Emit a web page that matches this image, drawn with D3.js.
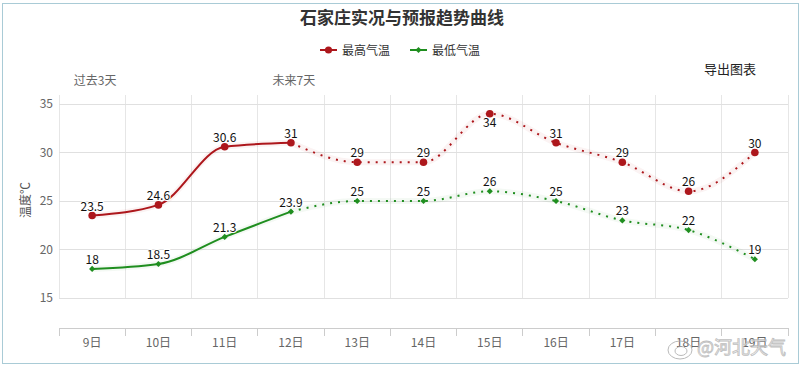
<!DOCTYPE html>
<html><head><meta charset="utf-8">
<script src="https://cdn.jsdelivr.net/npm/d3@7"></script>
<style>
body{margin:0;background:#fff;}
svg{display:block;font-family:"Noto Sans CJK SC","Noto Sans",sans-serif;}
</style></head>
<body><svg id="c" width="803" height="368"></svg>
<script>
const categories = ["9日","10日","11日","12日","13日","14日","15日","16日","17日","18日","19日"];
const highTemps = [23.5,24.6,30.6,31,29,29,34,31,29,26,30];
const lowTemps  = [18,18.5,21.3,23.9,25,25,26,25,23,22,19];
const observedCount = 4; // 9日..12日 solid (actual), rest dotted (forecast)
const yTicks = [15,20,25,30,35];
const periodLabels = [{cat:"9日",text:"过去3天"},{cat:"12日",text:"未来7天"}];
const seriesNames = ["最高气温","最低气温"];
const titleText = "石家庄实况与预报趋势曲线";

(function(){
const svg = d3.select("#c");
const pLeft = 59, pRight = 788, pTop = 104, pBottom = 298, axisY = 328;
const red = "#ad171c", green = "#1f8e1f";

// frame
svg.append("rect").attr("x",2.5).attr("y",3.5).attr("width",796).attr("height",360)
  .attr("fill","#fff").attr("stroke","#a9cbd6").attr("stroke-width",1);

const x = d3.scaleBand().domain(categories).range([pLeft,pRight]).padding(0);
const y = d3.scaleLinear().domain([15,35]).range([pBottom,pTop]);
const cx = d => x(d)+x.bandwidth()/2;
const bounds = categories.map(c=>x(c)).concat([pRight]);

// vertical grid
svg.append("g").selectAll("line").data(bounds).join("line")
  .attr("x1",d=>d).attr("x2",d=>d).attr("y1",95).attr("y2",pBottom)
  .attr("stroke","#e6e6e6").attr("stroke-width",1).attr("shape-rendering","crispEdges");
// horizontal grid
svg.append("g").selectAll("line").data(yTicks).join("line")
  .attr("x1",pLeft).attr("x2",pRight).attr("y1",d=>y(d)).attr("y2",d=>y(d))
  .attr("stroke","#e0e0e0").attr("stroke-width",1).attr("shape-rendering","crispEdges");
// y labels
svg.append("g").selectAll("text").data(yTicks).join("text")
  .attr("x",53).attr("y",d=>y(d)+4).attr("text-anchor","end")
  .attr("font-size",12).attr("fill","#666").text(d=>d);
// y title
svg.append("text").attr("transform","translate(30,200) rotate(-90)")
  .attr("text-anchor","middle").attr("font-size",12).attr("fill","#555").text("温度℃");

// bottom axis
svg.append("line").attr("x1",pLeft).attr("x2",pRight).attr("y1",axisY).attr("y2",axisY)
  .attr("stroke","#ccc").attr("shape-rendering","crispEdges");
svg.append("g").selectAll("line").data(bounds).join("line")
  .attr("x1",d=>d).attr("x2",d=>d).attr("y1",axisY).attr("y2",axisY+8)
  .attr("stroke","#ccc").attr("shape-rendering","crispEdges");
const xa = svg.append("g").attr("transform",`translate(0,${axisY})`)
  .call(d3.axisBottom(x).tickSize(0).tickPadding(10));
xa.select(".domain").remove();
xa.selectAll("text").attr("font-size",12).attr("fill","#666")
  .attr("font-family","Noto Sans CJK SC, sans-serif");

// top period labels
svg.append("g").selectAll("text").data(periodLabels).join("text")
  .attr("x",d=>cx(d.cat)+3).attr("y",85).attr("text-anchor","middle")
  .attr("font-size",12).attr("fill","#666").text(d=>d.text);

// title
svg.append("text").attr("x",402).attr("y",24).attr("text-anchor","middle")
  .attr("font-size",17).attr("font-weight","bold").attr("fill","#333").text(titleText);
// export
svg.append("text").attr("x",730).attr("y",74).attr("text-anchor","middle")
  .attr("font-size",13).attr("fill","#222").text("导出图表");

// legend
const legend = [{name:seriesNames[0],color:red,x:320,sym:d3.symbolCircle,size:40},
                {name:seriesNames[1],color:green,x:410,sym:d3.symbolDiamond2,size:24}];
legend.forEach(l=>{
  svg.append("line").attr("x1",l.x).attr("x2",l.x+17).attr("y1",50).attr("y2",50)
    .attr("stroke",l.color).attr("stroke-width",2);
  svg.append("path").attr("d",d3.symbol(l.sym,l.size)()).attr("transform",`translate(${l.x+8.5},50)`)
    .attr("fill",l.color);
  svg.append("text").attr("x",l.x+22).attr("y",54.5).attr("font-size",12).attr("fill","#333").text(l.name);
});

const line = d3.line().x(d=>cx(d.c)).y(d=>y(d.v)).curve(d3.curveMonotoneX);
function drawSeries(vals,color,sym,size){
  const pts = vals.map((v,i)=>({c:categories[i],v}));
  const solid = pts.slice(0,observedCount), dotted = pts.slice(observedCount-1);
  const g = svg.append("g");
  [solid,dotted].forEach(p=>g.append("path").attr("d",line(p)).attr("fill","none")
    .attr("stroke",color).attr("stroke-opacity",0.05).attr("stroke-width",6));
  g.append("path").attr("d",line(solid)).attr("fill","none").attr("stroke",color).attr("stroke-width",2);
  g.append("path").attr("d",line(dotted)).attr("fill","none").attr("stroke",color).attr("stroke-width",2)
    .attr("stroke-dasharray","2,6");
  g.selectAll(".m").data(pts).join("path").attr("d",d3.symbol(sym,size)())
    .attr("transform",d=>`translate(${cx(d.c)},${y(d.v)})`).attr("fill",color);
  g.selectAll(".l").data(pts).join("text")
    .attr("x",d=>cx(d.c)).attr("y",d=>{const py=y(d.v); return (py-16<pTop)? py+13 : py-5;})
    .attr("text-anchor","middle").attr("font-size",12).attr("fill","#111")
    .attr("stroke","#fff").attr("stroke-width",2).attr("paint-order","stroke")
    .text(d=>d.v);
}
drawSeries(highTemps,red,d3.symbolCircle,45);
drawSeries(lowTemps,green,d3.symbolDiamond2,24);

// watermark
const wm = svg.append("g").attr("opacity",0.8);
wm.append("ellipse").attr("cx",680).attr("cy",350).attr("rx",12).attr("ry",9).attr("fill","none").attr("stroke","#aaa");
wm.append("ellipse").attr("cx",681).attr("cy",351).attr("rx",6).attr("ry",4.5).attr("fill","none").attr("stroke","#aaa");
wm.append("text").attr("x",697).attr("y",354).attr("font-size",18).attr("fill","#f2f2f2")
  .attr("stroke","#b0b0b0").attr("stroke-width",0.8).text("@河北天气");
})();
</script></body></html>
